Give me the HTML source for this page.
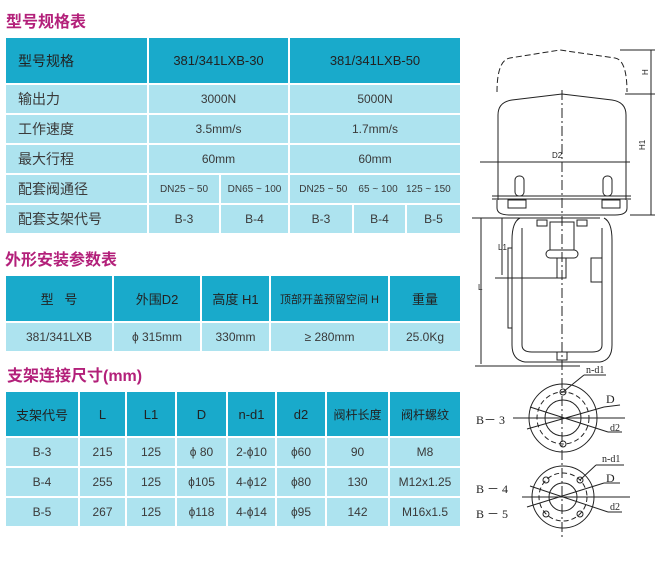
<!DOCTYPE html>
<html><head><meta charset="utf-8"><style>
body{margin:0;width:662px;height:561px;background:#fff;position:relative;overflow:hidden;font-family:"Liberation Sans","Noto Sans CJK SC",sans-serif;}
.t{position:absolute;color:#b3207a;font-size:16px;font-weight:bold;font-family:"Liberation Sans","Noto Sans CJK SC",sans-serif;}
.c{position:absolute;display:flex;align-items:center;justify-content:center;font-size:12px;color:#3a3a3a;background:#ade3ef;white-space:nowrap;overflow:hidden;}
.h{background:#19aacb;color:#222;font-size:13px;}
.l{justify-content:flex-start;padding-left:12px;box-sizing:border-box;font-size:14px;}
.s{font-size:10px;}
</style></head><body>
<div class="t" style="left:6px;top:8px;">型号规格表</div>
<div class="c h l" style="left:6px;top:38px;width:141px;height:45px;padding-left:12px">型号规格</div>
<div class="c h" style="left:149px;top:38px;width:139px;height:45px">381/341LXB-30</div>
<div class="c h" style="left:290px;top:38px;width:170px;height:45px">381/341LXB-50</div>

<div class="c l" style="left:6px;top:85px;width:141px;height:28px">输出力</div>
<div class="c" style="left:149px;top:85px;width:139px;height:28px">3000N</div>
<div class="c" style="left:290px;top:85px;width:170px;height:28px">5000N</div>
<div class="c l" style="left:6px;top:115px;width:141px;height:28px">工作速度</div>
<div class="c" style="left:149px;top:115px;width:139px;height:28px">3.5mm/s</div>
<div class="c" style="left:290px;top:115px;width:170px;height:28px">1.7mm/s</div>
<div class="c l" style="left:6px;top:145px;width:141px;height:28px">最大行程</div>
<div class="c" style="left:149px;top:145px;width:139px;height:28px">60mm</div>
<div class="c" style="left:290px;top:145px;width:170px;height:28px">60mm</div>
<div class="c l" style="left:6px;top:175px;width:141px;height:28px">配套阀通径</div>
<div class="c s" style="left:149px;top:175px;width:70px;height:28px">DN25 ~ 50</div>
<div class="c s" style="left:221px;top:175px;width:67px;height:28px">DN65 ~ 100</div>
<div class="c s" style="left:290px;top:175px;width:170px;height:28px">DN25 ~ 50 &nbsp;&nbsp; 65 ~ 100 &nbsp; 125 ~ 150</div>
<div class="c l" style="left:6px;top:205px;width:141px;height:28px">配套支架代号</div>
<div class="c" style="left:149px;top:205px;width:70px;height:28px">B-3</div>
<div class="c" style="left:221px;top:205px;width:67px;height:28px">B-4</div>
<div class="c" style="left:290px;top:205px;width:62px;height:28px">B-3</div>
<div class="c" style="left:354px;top:205px;width:51px;height:28px">B-4</div>
<div class="c" style="left:407px;top:205px;width:53px;height:28px">B-5</div>

<div class="t" style="left:5px;top:246px;">外形安装参数表</div>
<div class="c h" style="left:6px;top:276px;width:106px;height:45px">型 &nbsp; 号</div>
<div class="c h" style="left:114px;top:276px;width:86px;height:45px">外围D2</div>
<div class="c h" style="left:202px;top:276px;width:67px;height:45px">高度 H1</div>
<div class="c h" style="left:271px;top:276px;width:117px;height:45px;font-size:11px">顶部开盖预留空间 H</div>
<div class="c h" style="left:390px;top:276px;width:70px;height:45px">重量</div>
<div class="c" style="left:6px;top:323px;width:106px;height:28px">381/341LXB</div>
<div class="c" style="left:114px;top:323px;width:86px;height:28px">ϕ 315mm</div>
<div class="c" style="left:202px;top:323px;width:67px;height:28px">330mm</div>
<div class="c" style="left:271px;top:323px;width:117px;height:28px">≥ 280mm</div>
<div class="c" style="left:390px;top:323px;width:70px;height:28px">25.0Kg</div>

<div class="t" style="left:7px;top:362px;">支架连接尺寸(mm)</div>
<div class="c h" style="left:6px;top:392px;width:72px;height:44px">支架代号</div>
<div class="c h" style="left:80px;top:392px;width:45px;height:44px">L</div>
<div class="c h" style="left:127px;top:392px;width:48px;height:44px">L1</div>
<div class="c h" style="left:177px;top:392px;width:49px;height:44px">D</div>
<div class="c h" style="left:228px;top:392px;width:47px;height:44px">n-d1</div>
<div class="c h" style="left:277px;top:392px;width:48px;height:44px">d2</div>
<div class="c h" style="left:327px;top:392px;width:61px;height:44px;font-size:12px">阀杆长度</div>
<div class="c h" style="left:390px;top:392px;width:70px;height:44px;font-size:12px">阀杆螺纹</div>

<div class="c" style="left:6px;top:438px;width:72px;height:28px">B-3</div>
<div class="c" style="left:80px;top:438px;width:45px;height:28px">215</div>
<div class="c" style="left:127px;top:438px;width:48px;height:28px">125</div>
<div class="c" style="left:177px;top:438px;width:49px;height:28px">ϕ 80</div>
<div class="c" style="left:228px;top:438px;width:47px;height:28px">2-ϕ10</div>
<div class="c" style="left:277px;top:438px;width:48px;height:28px">ϕ60</div>
<div class="c" style="left:327px;top:438px;width:61px;height:28px">90</div>
<div class="c" style="left:390px;top:438px;width:70px;height:28px">M8</div>

<div class="c" style="left:6px;top:468px;width:72px;height:28px">B-4</div>
<div class="c" style="left:80px;top:468px;width:45px;height:28px">255</div>
<div class="c" style="left:127px;top:468px;width:48px;height:28px">125</div>
<div class="c" style="left:177px;top:468px;width:49px;height:28px">ϕ105</div>
<div class="c" style="left:228px;top:468px;width:47px;height:28px">4-ϕ12</div>
<div class="c" style="left:277px;top:468px;width:48px;height:28px">ϕ80</div>
<div class="c" style="left:327px;top:468px;width:61px;height:28px">130</div>
<div class="c" style="left:390px;top:468px;width:70px;height:28px">M12x1.25</div>

<div class="c" style="left:6px;top:498px;width:72px;height:28px">B-5</div>
<div class="c" style="left:80px;top:498px;width:45px;height:28px">267</div>
<div class="c" style="left:127px;top:498px;width:48px;height:28px">125</div>
<div class="c" style="left:177px;top:498px;width:49px;height:28px">ϕ118</div>
<div class="c" style="left:228px;top:498px;width:47px;height:28px">4-ϕ14</div>
<div class="c" style="left:277px;top:498px;width:48px;height:28px">ϕ95</div>
<div class="c" style="left:327px;top:498px;width:61px;height:28px">142</div>
<div class="c" style="left:390px;top:498px;width:70px;height:28px">M16x1.5</div>

<svg style="position:absolute;left:0;top:0" width="662" height="561" viewBox="0 0 662 561" fill="none" stroke="#222" stroke-width="1">
<path d="M497 92 Q497 60 510 58 L560 50 L615 58 Q627 60 627 92" stroke-dasharray="6,3"/>
<path d="M498 200 L498 115 Q498 102 512 100 L562 94 L612 100 Q626 102 626 115 L626 200"/>
<path d="M492 196 L631 196 M492 199 L631 199"/>
<path d="M497 200 L497 208 Q497 215 510 215 L615 215 Q627 215 627 208 L627 200"/>
<line x1="562" y1="90" x2="562" y2="540" stroke-dasharray="10,3,2,3"/>
<rect x="515" y="176" width="9" height="20" rx="4"/><rect x="603" y="176" width="9" height="20" rx="4"/>
<rect x="508" y="200" width="18" height="8"/><rect x="602" y="200" width="18" height="8"/>
<line x1="480" y1="162" x2="630" y2="162"/>
<text x="552" y="158" font-size="8" fill="#222" stroke="none" font-family="Liberation Sans">D2</text>
<line x1="620" y1="50" x2="655" y2="50"/><line x1="625" y1="94" x2="655" y2="94"/><line x1="630" y1="215" x2="655" y2="215"/>
<line x1="651" y1="50" x2="651" y2="94"/><line x1="651" y1="94" x2="651" y2="215"/>
<text x="645" y="78" font-size="8" fill="#222" stroke="none" transform="rotate(-90 645 75)">H</text>
<text x="645" y="150" font-size="8" fill="#222" stroke="none" transform="rotate(-90 645 150)">H1</text>
<line x1="472" y1="218" x2="600" y2="218"/>
<line x1="481" y1="218" x2="481" y2="364"/><line x1="502" y1="218" x2="502" y2="275"/>
<line x1="495" y1="278" x2="560" y2="278"/>
<text x="478" y="290" font-size="8" fill="#222" stroke="none">L</text>
<text x="498" y="250" font-size="8" fill="#222" stroke="none">L1</text>
<line x1="475" y1="366" x2="580" y2="366"/>
<path d="M520 218 Q512 222 512 240 L512 345 Q512 360 525 362 L600 362 Q612 360 612 345 L612 240 Q612 222 604 218"/>
<path d="M522 228 L522 345 Q522 352 532 352 L592 352 Q602 352 602 345 L602 228"/>
<rect x="508" y="248" width="4" height="80"/>
<rect x="591" y="258" width="11" height="24"/>
<rect x="550" y="222" width="24" height="28"/>
<rect x="546" y="250" width="32" height="8" rx="4"/>
<rect x="557" y="258" width="9" height="20"/>
<rect x="537" y="220" width="10" height="6"/><rect x="577" y="220" width="10" height="6"/>
<rect x="557" y="352" width="10" height="8"/>
<circle cx="563" cy="418" r="34"/><circle cx="563" cy="418" r="26" stroke-dasharray="5,3"/><circle cx="563" cy="418" r="18"/>
<circle cx="563" cy="392" r="3"/><circle cx="563" cy="444" r="3"/>
<line x1="513" y1="418" x2="625" y2="418"/>
<line x1="527" y1="429" x2="604" y2="407"/><line x1="604" y1="407" x2="620" y2="405"/>
<line x1="530" y1="407" x2="608" y2="432"/><line x1="608" y1="432" x2="622" y2="432"/>
<line x1="563" y1="392" x2="584" y2="375"/><line x1="584" y1="375" x2="606" y2="375"/>
<text x="586" y="373" font-size="10" fill="#222" stroke="none" font-family="Liberation Serif">n-d1</text>
<text x="606" y="403" font-size="12" fill="#222" stroke="none" font-family="Liberation Serif">D</text>
<text x="610" y="431" font-size="10" fill="#222" stroke="none" font-family="Liberation Serif">d2</text>
<text x="476" y="424" font-size="12" fill="#222" stroke="none" font-family="Liberation Serif">B－ 3</text>
<circle cx="563" cy="497" r="31"/><circle cx="563" cy="497" r="24" stroke-dasharray="5,3"/><circle cx="563" cy="497" r="14"/>
<circle cx="546" cy="480" r="3"/><circle cx="580" cy="480" r="3"/><circle cx="546" cy="514" r="3"/><circle cx="580" cy="514" r="3"/>
<line x1="522" y1="497" x2="630" y2="497"/>
<line x1="527" y1="507" x2="604" y2="483"/><line x1="604" y1="483" x2="620" y2="483"/>
<line x1="530" y1="486" x2="608" y2="512"/><line x1="608" y1="512" x2="622" y2="512"/>
<line x1="580" y1="480" x2="596" y2="465"/><line x1="596" y1="465" x2="624" y2="465"/>
<text x="602" y="462" font-size="10" fill="#222" stroke="none" font-family="Liberation Serif">n-d1</text>
<text x="606" y="482" font-size="12" fill="#222" stroke="none" font-family="Liberation Serif">D</text>
<text x="610" y="510" font-size="10" fill="#222" stroke="none" font-family="Liberation Serif">d2</text>
<text x="476" y="493" font-size="12" fill="#222" stroke="none" font-family="Liberation Serif">B － 4</text>
<text x="476" y="518" font-size="12" fill="#222" stroke="none" font-family="Liberation Serif">B － 5</text>
</svg>
</body></html>
